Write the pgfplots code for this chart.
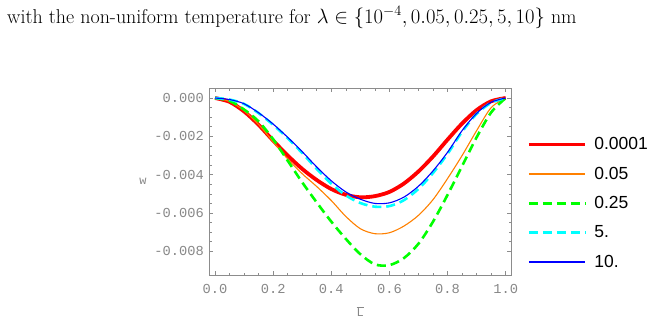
\documentclass[border=0pt]{standalone}
\usepackage{fontspec}
\usepackage{pgfplots}
\pgfplotsset{compat=1.18}
\newfontfamily\monofont{Liberation Mono}
\newfontfamily\sansfont{Liberation Sans}

\definecolor{framegray}{RGB}{140,140,140}
\definecolor{labelgray}{RGB}{135,135,135}
\definecolor{mmared}{rgb}{1,0,0}
\definecolor{mmaorange}{rgb}{1,0.5,0}
\definecolor{mmagreen}{rgb}{0,1,0}
\definecolor{mmacyan}{rgb}{0,1,1}
\definecolor{mmablue}{rgb}{0,0,1}

% deflection profiles w(L) for each length scale
\pgfplotstableread{
L      w
0.00   0
0.05  -0.00020
0.10  -0.00070
0.15  -0.00140
0.20  -0.00222
0.25  -0.00300
0.30  -0.00370
0.35  -0.00428
0.40  -0.00475
0.45  -0.00505
0.50  -0.00518
0.55  -0.00512
0.60  -0.00490
0.65  -0.00446
0.70  -0.00383
0.75  -0.00305
0.80  -0.00217
0.85  -0.00133
0.90  -0.00063
0.95  -0.00017
1.00   0
}\tabA
\pgfplotstableread{
L      w
0.00   0
0.05  -0.00018
0.10  -0.00066
0.15  -0.00138
0.20  -0.00228
0.25  -0.00318
0.30  -0.00395
0.35  -0.00462
0.40  -0.00535
0.45  -0.00618
0.50  -0.00682
0.55  -0.00708
0.60  -0.00703
0.65  -0.00668
0.70  -0.00612
0.75  -0.00530
0.80  -0.00420
0.85  -0.00300
0.90  -0.00170
0.95  -0.00050
1.00   0
}\tabB
\pgfplotstableread{
L      w
0.00   0
0.05  -0.00015
0.10  -0.00060
0.15  -0.00122
0.20  -0.00215
0.25  -0.00327
0.30  -0.00440
0.35  -0.00545
0.40  -0.00645
0.45  -0.00735
0.50  -0.00815
0.55  -0.00868
0.60  -0.00872
0.65  -0.00835
0.70  -0.00760
0.75  -0.00645
0.80  -0.00505
0.85  -0.00355
0.90  -0.00205
0.95  -0.00075
1.00   0
}\tabC
\pgfplotstableread{
L      w
0.00   0
0.05  -0.00008
0.10  -0.00031
0.15  -0.00079
0.20  -0.00140
0.25  -0.00210
0.30  -0.00287
0.35  -0.00370
0.40  -0.00447
0.45  -0.00508
0.50  -0.00548
0.55  -0.00567
0.60  -0.00564
0.65  -0.00533
0.70  -0.00474
0.75  -0.00391
0.80  -0.00291
0.85  -0.00176
0.90  -0.00083
0.95  -0.00025
1.00   0
}\tabD
\pgfplotstableread{
L      w
0.00   0
0.05  -0.00008
0.10  -0.00030
0.15  -0.00077
0.20  -0.00136
0.25  -0.00205
0.30  -0.00280
0.35  -0.00360
0.40  -0.00432
0.45  -0.00490
0.50  -0.00528
0.55  -0.00550
0.60  -0.00547
0.65  -0.00517
0.70  -0.00460
0.75  -0.00380
0.80  -0.00283
0.85  -0.00170
0.90  -0.00080
0.95  -0.00022
1.00   0
}\tabE

\begin{document}
\begin{tikzpicture}[x=1bp,y=1bp]
\node[anchor=base west, inner sep=0pt, font=\fontsize{20bp}{24bp}\selectfont]
  at (7,-23) {with the non-uniform temperature for $\lambda\in\bigl\{10^{-4},0.05,0.25,5,10\bigr\}$ nm};
\begin{axis}[
  at={(209.3bp,-88.3bp)}, anchor=north west,
  scale only axis, width=301.7bp, height=186.7bp,
  xmin=-0.0196, xmax=1.0182,
  ymin=-0.009235, ymax=0.000506,
  xtick={0,0.2,0.4,0.6,0.8,1},
  xticklabels={0.0,0.2,0.4,0.6,0.8,1.0},
  ytick={-0.008,-0.006,-0.004,-0.002,0},
  yticklabels={-0.008,-0.006,-0.004,-0.002,0.000},
  scaled y ticks=false,
  minor x tick num=3, minor y tick num=3,
  major tick length=4bp, minor tick length=2.3bp,
  tick align=inside,
  axis line style={framegray, line width=0.8bp},
  every tick/.style={framegray, line width=0.6bp},
  ticklabel style={font=\monofont\fontsize{13.7bp}{15bp}\selectfont, text=labelgray, inner sep=0pt},
  xticklabel style={anchor=base, yshift=-18.3bp},
  yticklabel style={anchor=east, xshift=-5.3bp},
  xlabel={$\overline{\mbox{\monofont L}}$},
  ylabel={w},
  label style={font=\monofont\fontsize{12bp}{14bp}\selectfont, text=labelgray},
  x label style={at={(axis description cs:0.5,-0.1955)}, anchor=center},
  y label style={at={(axis description cs:-0.22,0.5)}, anchor=center, rotate=-90},
  legend cell align=left,
  legend style={draw=none, fill=none, at={(1,1)}, anchor=north west,
    xshift=15.7bp, yshift=-49.2bp,
    font=\sansfont\fontsize{17.5bp}{20bp}\selectfont,
    row sep=15.7bp, column sep=7bp, inner sep=0pt,
    nodes={inner sep=0pt}},
  legend image code/.code={\draw[#1] (0bp,0bp) -- (56.6bp,0bp);},
]
\addplot[mmared, line width=3.8bp, smooth] table[x=L, y=w] {\tabA};
\addlegendentry{0.0001}
\addplot[mmaorange, line width=1.1bp, smooth] table[x=L, y=w] {\tabB};
\addlegendentry{0.05}
\addplot[mmagreen, line width=2.6bp, dash pattern=on 9bp off 5bp, smooth] table[x=L, y=w] {\tabC};
\addlegendentry{0.25}
\addplot[mmacyan, line width=2.6bp, dash pattern=on 9bp off 5bp, smooth] table[x=L, y=w] {\tabD};
\addlegendentry{5.}
\addplot[mmablue, line width=1.1bp, smooth] table[x=L, y=w] {\tabE};
\addlegendentry{10.}
\end{axis}
\pgfresetboundingbox
\useasboundingbox (0,0) rectangle (649,-322);
\end{tikzpicture}
\end{document}
